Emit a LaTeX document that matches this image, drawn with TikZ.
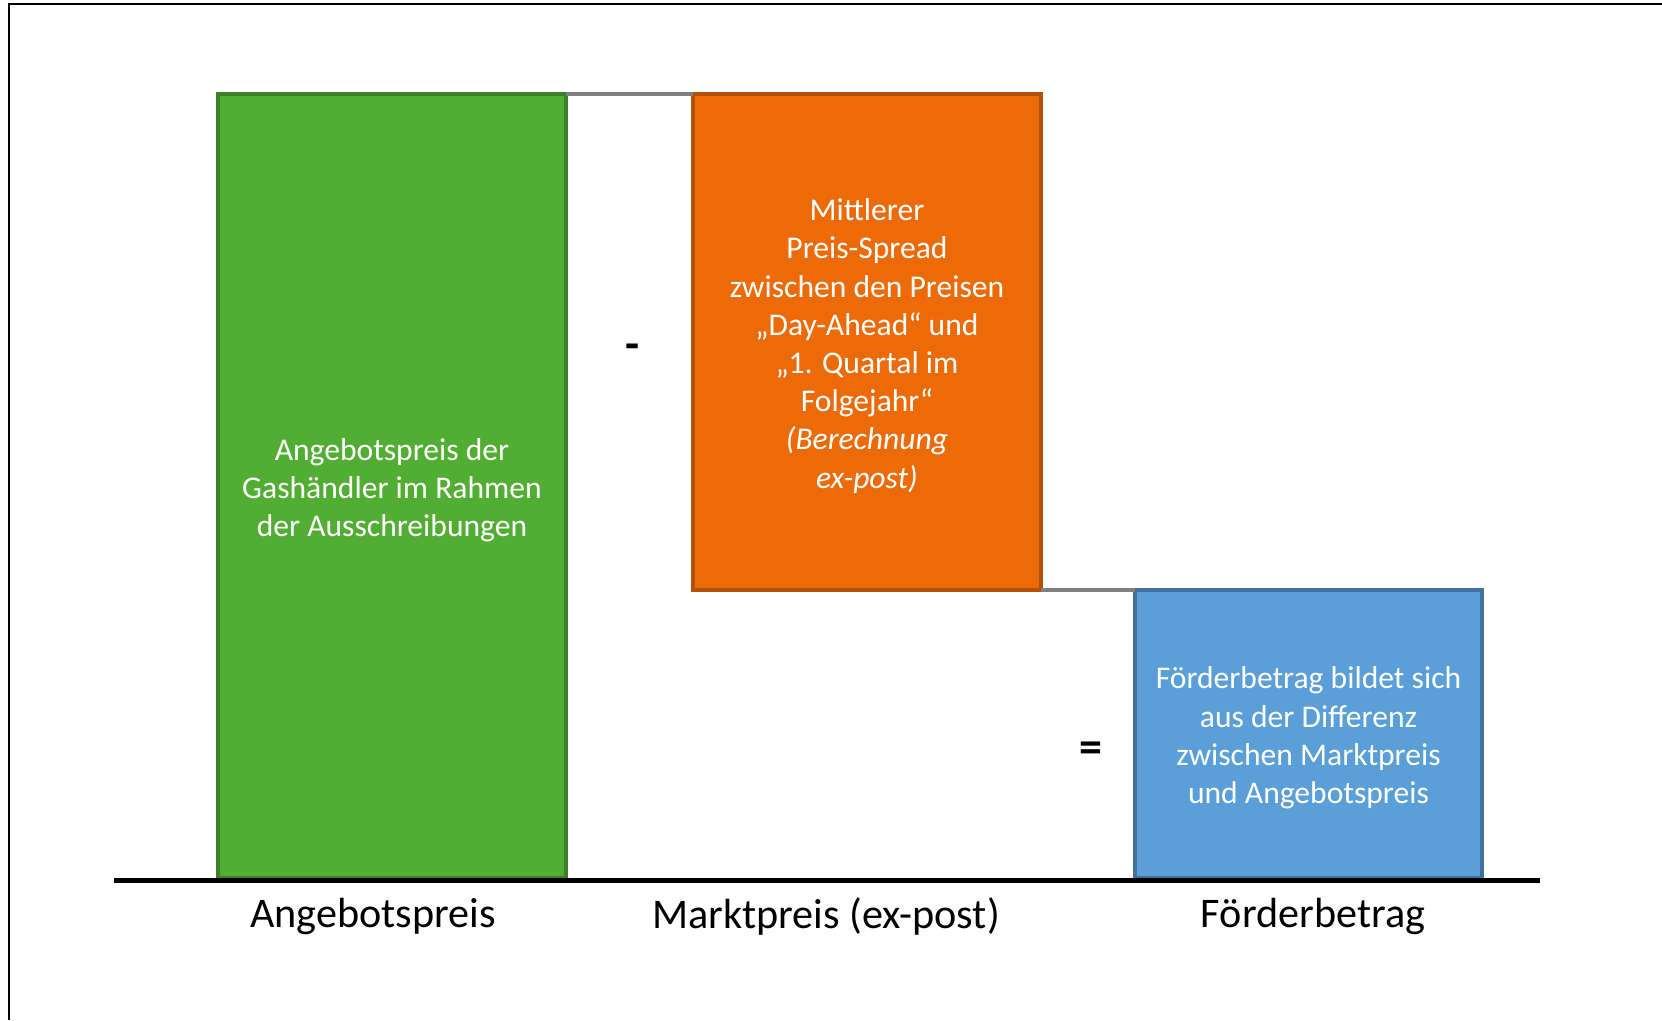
\documentclass[tikz,border=0pt]{standalone}
\usepackage{fontspec}
\setmainfont{Carlito}
\definecolor{gfill}{RGB}{82,174,50}
\definecolor{gdraw}{RGB}{60,127,38}
\definecolor{ofill}{RGB}{236,107,8}
\definecolor{odraw}{RGB}{178,81,10}
\definecolor{bfill}{RGB}{91,159,216}
\definecolor{bdraw}{RGB}{65,113,156}
\definecolor{conngray}{RGB}{128,128,128}
\tikzset{
  bar/.style={line width=4pt, inner sep=0pt, outer sep=0pt},
  bartext/.style={text=white, align=center, inner sep=0pt,
    font=\fontsize{31.6}{38.2}\selectfont, yshift=-4pt},
  conn/.style={line width=4.5pt, draw=conngray},
  axislabel/.style={font=\fontsize{42.2}{48}\selectfont, inner sep=0pt},
  opsign/.style={font=\bfseries\fontsize{46}{50}\selectfont, inner sep=0pt},
}
\begin{document}
\begin{tikzpicture}[x=1pt,y=-1pt]
\useasboundingbox (0,0) rectangle (1662,1020);
\fill[white] (0,0) rectangle (1662,1020);
% frame
\draw[line width=2pt] (9,1020) -- (9,4) -- (1662,4);
% boxes
\node[bar, fill=gfill, draw=gdraw, minimum width=348pt, minimum height=784pt] (g) at (392,486) {};
\node[bar, fill=ofill, draw=odraw, minimum width=348pt, minimum height=496pt] (o) at (867,342) {};
\node[bar, fill=bfill, draw=bdraw, minimum width=347pt, minimum height=288pt] (b) at (1308.5,734) {};
% texts
\node[bartext] (gt) at (g.center)
  {Angebotspreis der\\Gashändler im Rahmen\\der Ausschreibungen};
\node[bartext] (ot) at (o.center)
  {Mittlerer\\Preis-Spread\\zwischen den Preisen\\„Day-Ahead“ und\\„1. Quartal im\\Folgejahr“\\\textit{(Berechnung}\\\textit{ex-post)}};
\node[bartext] (bt) at (b.center)
  {Förderbetrag bildet sich\\aus der Differenz\\zwischen Marktpreis\\und Angebotspreis};
% connectors
\draw[conn] (g.north east) -- (o.north west);
\draw[conn] (o.south east) -- (b.north west);
% axis
\coordinate (ax1) at (114,880);
\coordinate (ax2) at (1540,880);
\draw[line width=5pt] (ax1) -- (ax2);
% labels
\node[axislabel] (l1) at (373,916) {Angebotspreis};
\node[axislabel] (l2) at (826,916) {Marktpreis (ex-post)};
\node[axislabel] (l3) at (1313,916) {Förderbetrag};
% operators
\node[opsign] (minus) at (633,352) {-};
\node[opsign] (eq) at (1091,752) {=};
\end{tikzpicture}
\end{document}
